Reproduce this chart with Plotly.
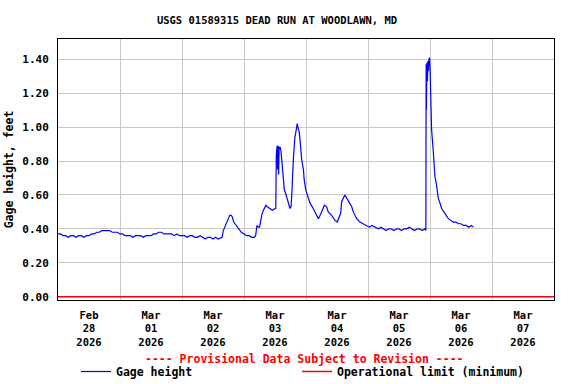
import pandas as pd
import plotly.graph_objects as go

# ---- data (hours since 2026-02-28 00:00, gage height in feet) ----
hours = [
    0, 1, 2, 3, 4, 5, 6, 7, 8, 9, 10, 11, 12, 13, 14, 15, 16, 17, 18, 19, 20, 21, 22, 23,
    24, 25, 26, 27, 28, 29, 30, 31, 32, 33, 34, 35, 36, 37, 38, 39, 40, 41, 42, 43, 44, 45, 46, 47,
    48, 49, 50, 51, 52, 53, 54, 55, 56, 57, 58, 59, 60, 61, 62, 63, 63.5,
    64, 64.5, 65, 65.5, 66, 66.5, 67, 67.5, 68, 69, 70, 71, 72, 73, 74, 75, 76, 76.5,
    77, 77.5, 78, 78.5, 79, 79.5, 80, 80.5, 81, 82, 83, 84, 84.3,
    84.5, 84.8, 85.0, 85.2, 85.4, 85.6, 86.0, 86.3, 86.6, 87.2, 87.6, 88.1, 88.9, 89.4, 89.8,
    90.2, 90.5, 91.1, 91.7, 92.4, 92.6, 93.0, 93.4, 94.0, 94.3, 95.0, 95.3, 95.9, 96.7, 97.6,
    98.8, 100.1, 100.8, 101.8, 102.7, 103.1, 104.0, 104.6, 105.9, 107.2, 108.1, 109.4, 109.8,
    110.4, 111.0, 111.4, 112.4, 113.7, 114.3, 115.6, 116.9, 118.2, 119.5, 120.5, 121.5, 122.5, 123.5,
    124, 125, 126, 127, 128, 129, 130, 131, 132, 133, 134, 135, 136, 137, 138, 139, 140, 141, 142, 142.4,
    142.5, 142.6, 142.8, 143.0, 143.2, 143.4, 143.6, 143.8, 144.0, 144.2, 144.35, 144.6,
    145.3, 145.7, 145.9, 146.6, 147.2, 147.9, 148.5, 149.8, 151.1, 152, 153, 154, 155, 156,
    157, 158, 159, 160, 160.8,
]
gage_ft = [
    0.37, 0.37, 0.36, 0.36, 0.35, 0.36, 0.36, 0.35, 0.36, 0.36, 0.35, 0.36, 0.36, 0.37, 0.37, 0.38,
    0.38, 0.39, 0.39, 0.39, 0.39, 0.38, 0.38, 0.38,
    0.37, 0.37, 0.36, 0.36, 0.36, 0.35, 0.36, 0.36, 0.36, 0.35, 0.36, 0.36, 0.36, 0.37, 0.37, 0.38,
    0.38, 0.37, 0.37, 0.37, 0.37, 0.36, 0.37, 0.36,
    0.36, 0.36, 0.35, 0.36, 0.36, 0.35, 0.35, 0.36, 0.35, 0.34, 0.35, 0.35, 0.34, 0.35, 0.34, 0.35, 0.35,
    0.39, 0.41, 0.43, 0.45, 0.47, 0.48, 0.48, 0.47, 0.44, 0.42, 0.40, 0.38, 0.37, 0.36, 0.36, 0.35, 0.35, 0.36,
    0.42, 0.41, 0.41, 0.46, 0.49, 0.51, 0.53, 0.54, 0.53, 0.52, 0.51, 0.52, 0.52,
    0.83, 0.89, 0.75, 0.89, 0.72, 0.88, 0.88, 0.86, 0.81, 0.71, 0.63, 0.61, 0.57, 0.54, 0.52,
    0.53, 0.60, 0.81, 0.94, 1.00, 1.02, 0.99, 0.97, 0.87, 0.81, 0.75, 0.69, 0.63, 0.59, 0.55,
    0.52, 0.48, 0.46, 0.49, 0.53, 0.54, 0.53, 0.50, 0.48, 0.45, 0.44, 0.49, 0.56,
    0.58, 0.60, 0.59, 0.56, 0.53, 0.50, 0.46, 0.44, 0.43, 0.42, 0.41, 0.42, 0.41, 0.40,
    0.40, 0.41, 0.40, 0.39, 0.40, 0.40, 0.39, 0.40, 0.40, 0.39, 0.40, 0.40, 0.41, 0.40, 0.39, 0.40, 0.40, 0.39, 0.40, 0.39,
    1.37, 1.10, 1.38, 1.27, 1.39, 1.33, 1.40, 1.41, 1.36, 1.27, 1.11, 0.99,
    0.85, 0.77, 0.71, 0.65, 0.58, 0.55, 0.52, 0.49, 0.46, 0.45, 0.44, 0.44, 0.43, 0.43,
    0.42, 0.42, 0.41, 0.42, 0.41,
]
operational_limit_ft = 0.0

start = pd.Timestamp("2026-02-28 00:00")
end = pd.Timestamp("2026-03-08 00:00")
times = start + pd.to_timedelta(hours, unit="h")

tick_days = pd.date_range("2026-02-28", "2026-03-07", freq="D")
tick_vals = tick_days + pd.Timedelta(hours=12)
tick_text = [f"{d.strftime('%b')}<br>{d.strftime('%d')}<br>{d.strftime('%Y')}" for d in tick_days]
y_ticks = [0.0, 0.2, 0.4, 0.6, 0.8, 1.0, 1.2, 1.4]

FONT = "DejaVu Sans Mono"
W, H = 576, 384
L, R, T, B = 58, 22, 39, 84
PW, PH = W - L - R, H - T - B


def px_x(px):
    return (px - L) / PW


def px_y(py):
    return (H - B - py) / PH


fig = go.Figure()
fig.add_trace(go.Scatter(
    x=times, y=gage_ft, mode="lines", name="Gage height",
    line=dict(color="#0000ff", width=1.2), legendwidth=176,
))
fig.add_trace(go.Scatter(
    x=[start, end], y=[operational_limit_ft, operational_limit_ft], mode="lines",
    name="Operational limit (minimum)",
    line=dict(color="#ff0000", width=1.5), legendwidth=230,
))

fig.update_layout(
    width=W, height=H,
    margin=dict(l=L, r=R, t=T, b=B, autoexpand=False),
    paper_bgcolor="white", plot_bgcolor="white",
    font=dict(family=FONT, size=11, color="black", weight="bold"),
    title=dict(text="USGS 01589315 DEAD RUN AT WOODLAWN, MD",
               x=277 / W, xanchor="center", y=1 - 20 / H, yanchor="middle",
               font=dict(family=FONT, size=10.5, color="black", weight="bold")),
    showlegend=True,
    legend=dict(orientation="h", x=px_x(76), xanchor="left",
                y=px_y(357), yanchor="top",
                font=dict(family=FONT, size=11.5, color="black", weight="bold"),
                bgcolor="rgba(0,0,0,0)", borderwidth=0, tracegroupgap=0,
                itemwidth=30),
    annotations=[dict(
        text="---- Provisional Data Subject to Revision ----",
        xref="paper", yref="paper",
        x=px_x(304), y=px_y(359),
        xanchor="center", yanchor="middle", showarrow=False,
        font=dict(family=FONT, size=11.5, color="#ff0000", weight="bold"),
    )],
)

fig.update_xaxes(
    type="date", range=[start, end], automargin=False,
    tickmode="array", tickvals=tick_vals, ticktext=tick_text,
    showgrid=False, ticks="", ticklabelstandoff=5,
    showline=True, linecolor="black", linewidth=1, mirror=True,
    zeroline=False,
    minor=dict(dtick=86400000, tick0=start, showgrid=True, gridcolor="#c8c8c8", gridwidth=1, ticks=""),
    tickfont=dict(family=FONT, size=10.5, color="black", weight="bold"),
)
fig.update_yaxes(
    range=[-0.0195, 1.5195], automargin=False,
    tickmode="array", tickvals=y_ticks, tickformat=".2f",
    showgrid=True, gridcolor="#c8c8c8", gridwidth=1,
    ticks="", ticklabelstandoff=6,
    showline=True, linecolor="black", linewidth=1, mirror=True,
    zeroline=False,
    title=dict(text="Gage height, feet", standoff=6,
               font=dict(family=FONT, size=11.5, color="black", weight="bold")),
    tickfont=dict(family=FONT, size=11, color="black", weight="bold"),
)

fig.write_html("out.html",
               config={"displayModeBar": False},
               post_script="document.body.style.margin='0';document.body.style.overflow='hidden';")
